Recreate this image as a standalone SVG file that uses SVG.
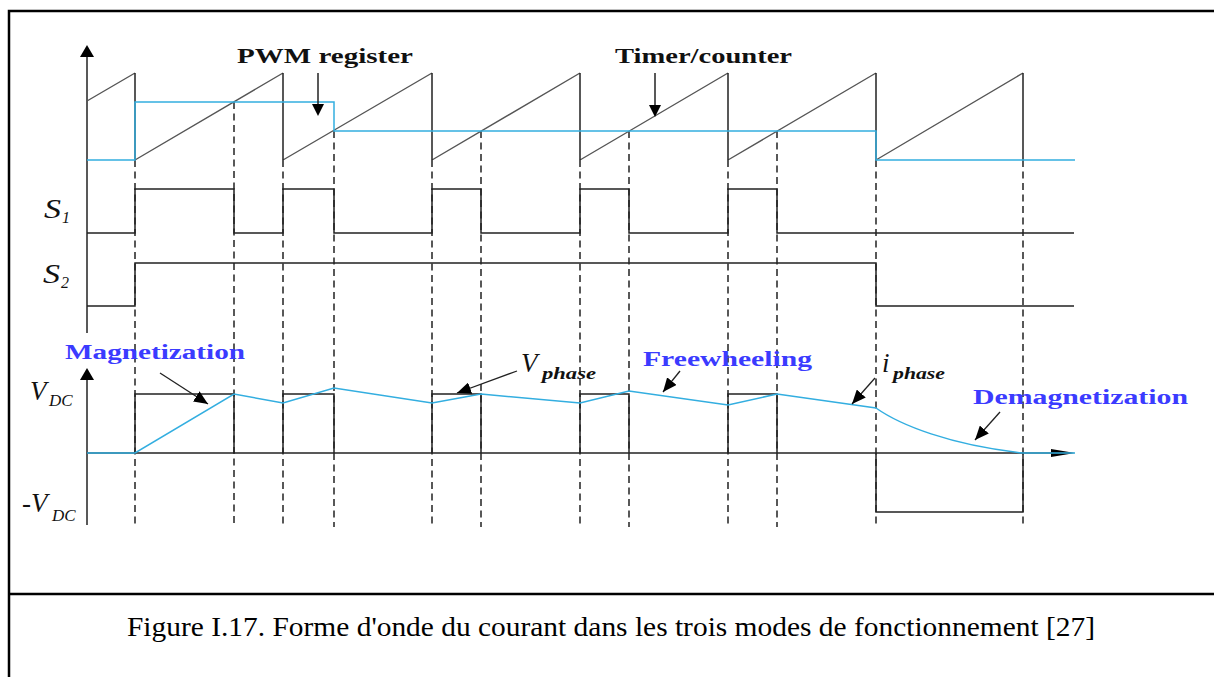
<svg xmlns="http://www.w3.org/2000/svg" width="1214" height="677" viewBox="0 0 1214 677">
<style>
.frame{stroke:#000;stroke-width:2.5;fill:none}
.saw{stroke:#555;stroke-width:1.4;fill:none}
.blk{stroke:#222;stroke-width:1.5;fill:none}
.dash{stroke:#222;stroke-width:1.5;fill:none;stroke-dasharray:7 4.5}
.blue{stroke:#33aee0;stroke-width:1.5;fill:none}
.ah{fill:#000}
.ann{stroke:#222;stroke-width:1.3;fill:none;marker-end:url(#arr)}
.lab{font-family:"Liberation Serif",serif;font-weight:bold;font-size:20px;fill:#111}
.blab{font-family:"Liberation Serif",serif;font-weight:bold;font-size:20px;fill:#3b3bff}
.sym{font-family:"Liberation Serif",serif;font-style:italic;fill:#111}
.cap{font-family:"Liberation Serif",serif;font-size:27px;fill:#000}
</style>
<defs>
<marker id="arr" markerUnits="userSpaceOnUse" markerWidth="16" markerHeight="12" refX="14" refY="6" orient="auto">
<path d="M0,0 L14,6 L0,12 Z" fill="#000"/>
</marker>
</defs>
<rect width="1214" height="677" fill="#fff"/>
<g id="frame">
<path class="frame" d="M9,677 V11 H1214"/>
<path class="frame" d="M9,594 H1214"/>
</g>
<g id="axes">
<path class="blk" d="M87,55 V333"/>
<path class="ah" d="M87,45 L80,57 L94,57 Z"/>
<path class="blk" d="M87,377 V525"/>
<path class="ah" d="M87,368 L80,380 L94,380 Z"/>
<path class="blk" d="M87,453 H1055"/>
<path class="ah" d="M1075,453 L1051,449 L1051,457 Z"/>
</g>
<g id="dashes">
<path class="dash" d="M135,160 V527 M234,102 V527 M283,160 V527 M334,131 V527 M432,160 V527 M481,131 V527 M580,160 V527 M629,131 V527 M728,160 V527 M777,131 V527 M876,160 V527 M1023,160 V527"/>
</g>
<g id="sawtooth">
<path class="saw" d="M87,101 L135,73 M135,160 L283,73 M283,160 L432,73 M432,160 L580,73 M580,160 L728,73 M728,160 L876,73 M876,160 L1023,73"/>
<path class="blk" d="M135,73 V160 M283,73 V160 M432,73 V160 M580,73 V160 M728,73 V160 M876,73 V160 M1023,73 V160"/>
</g>
<g id="pwm">
<path class="blue" d="M87,160 H135 V102 H334 V131 H876 V160 H1075"/>
</g>
<g id="s1">
<path class="blk" d="M87,233 H135 V189 H234 V233 H283 V189 H334 V233 H432 V189 H481 V233 H580 V189 H629 V233 H728 V189 H777 V233 H1074"/>
</g>
<g id="s2">
<path class="blk" d="M87,306 H135 V263 H876 V306 H1074"/>
</g>
<g id="vphase">
<path class="blk" d="M135,453 V394 H234 V453 M283,453 V394 H334 V453 M432,453 V394 H481 V453 M580,453 V394 H629 V453 M728,453 V394 H777 V453 M876,453 V512 H1023 V453"/>
</g>
<g id="current">
<path class="blue" d="M87,453 H135 L234,394 L283,403 L334,388 L432,403 L481,394 L580,403 L629,391 L728,405 L777,394 L876,408 C900,425 950,445 1023,453 H1075"/>
</g>
<g id="connectors">
<path class="blk" d="M318,73 V106"/>
<path class="ah" d="M318,116 L312,104 L324,104 Z"/>
<path class="blk" d="M655,73 V106"/>
<path class="ah" d="M655,117 L649,105 L661,105 Z"/>
<path class="ann" d="M160,373 L208,404"/>
<path class="ann" d="M517,371 L457,393"/>
<path class="ann" d="M680,371 L663,392"/>
<path class="ann" d="M875,378 L852,404"/>
<path class="ann" d="M1000,412 L975,440"/>
</g>
<g id="labels">
<text class="lab" x="237" y="63" textLength="176" lengthAdjust="spacingAndGlyphs">PWM register</text>
<text class="lab" x="615" y="63" textLength="177" lengthAdjust="spacingAndGlyphs">Timer/counter</text>
<text class="sym" x="44" y="218" font-size="27" textLength="17" lengthAdjust="spacingAndGlyphs">S</text>
<text class="sym" x="62" y="223" font-size="16" font-style="normal">1</text>
<text class="sym" x="43" y="283" font-size="27" textLength="17" lengthAdjust="spacingAndGlyphs">S</text>
<text class="sym" x="61" y="288" font-size="16" font-style="normal">2</text>
<text class="sym" x="30" y="400" font-size="27">V</text>
<text class="sym" x="49" y="406" font-size="17">DC</text>
<text class="sym" x="22" y="512" font-size="27">-V</text>
<text class="sym" x="52" y="521" font-size="17">DC</text>
<text class="blab" x="65" y="359" textLength="180" lengthAdjust="spacingAndGlyphs">Magnetization</text>
<text class="sym" x="521" y="372" font-size="27">V</text>
<text class="sym" x="542" y="379" font-size="17" font-weight="bold" textLength="54" lengthAdjust="spacingAndGlyphs">phase</text>
<text class="sym" x="882" y="372" font-size="27">i</text>
<text class="sym" x="893" y="379" font-size="17" font-weight="bold" textLength="52" lengthAdjust="spacingAndGlyphs">phase</text>
<text class="blab" x="643" y="366" textLength="169" lengthAdjust="spacingAndGlyphs">Freewheeling</text>
<text class="blab" x="973" y="404" textLength="215" lengthAdjust="spacingAndGlyphs">Demagnetization</text>
</g>
<g id="caption">
<text class="cap" x="127" y="636" textLength="968" lengthAdjust="spacingAndGlyphs">Figure I.17. Forme d'onde du courant dans les trois modes de fonctionnement [27]</text>
</g>
</svg>
